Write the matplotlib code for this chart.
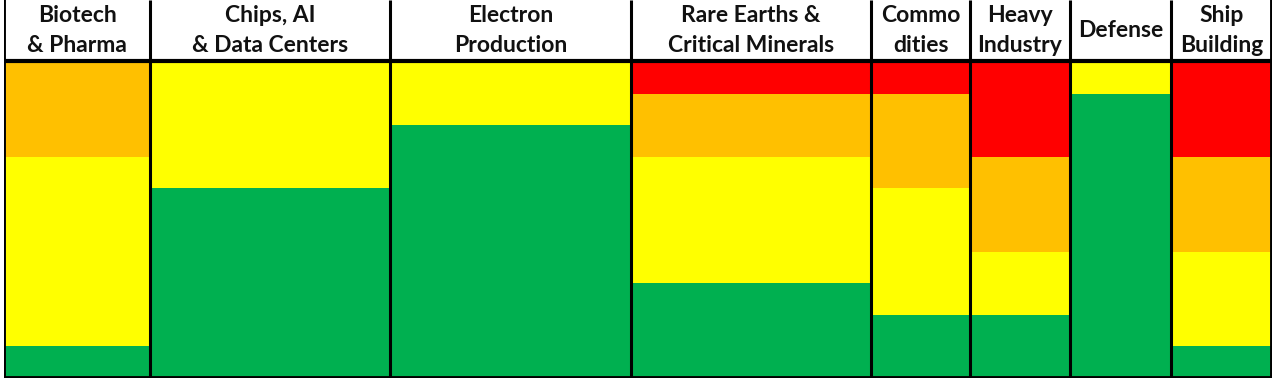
import matplotlib.pyplot as plt

# header labels for each column
sectors = ["Biotech\n& Pharma", "Chips, AI\n& Data Centers", "Electron\nProduction",
           "Rare Earths &\nCritical Minerals", "Commo\ndities", "Heavy\nIndustry",
           "Defense", "Ship\nBuilding"]

# stacked segments, bottom to top (out of 10)
green = [1, 6, 8, 3, 2, 2, 9, 1]
yellow = [6, 4, 2, 4, 4, 2, 1, 3]
orange = [3, 0, 0, 2, 3, 3, 0, 3]
red = [0, 0, 0, 1, 1, 3, 0, 3]

col_widths = [146, 240, 241, 240, 99, 100, 101, 101]
colors = {"green": "#00B050", "yellow": "#FFFF00", "orange": "#FFC000", "red": "#FF0000"}

W, H = 1280, 386
fig = plt.figure(figsize=(W / 100, H / 100), dpi=100)
ax = fig.add_axes([4 / W, 8 / H, 1268 / W, 378 / H])
unit = 316 / 10
top = 378 / unit

lefts = []
x = 0
for w in col_widths:
    lefts.append(x)
    x += w
total_w = x

bottom = [0] * len(sectors)
for name, vals in [("green", green), ("yellow", yellow), ("orange", orange), ("red", red)]:
    ax.bar(lefts, vals, width=col_widths, bottom=bottom, align="edge",
           color=colors[name], linewidth=0)
    bottom = [b + v for b, v in zip(bottom, vals)]

# grid lines
lw = 2.2
for xv in lefts[1:]:
    ax.plot([xv, xv], [0, top], color="black", lw=lw, solid_capstyle="butt")
ax.plot([0, 0], [0, top], color="black", lw=lw + 0.6, solid_capstyle="butt")
ax.plot([total_w, total_w], [0, top], color="black", lw=lw + 0.6, solid_capstyle="butt")
ax.plot([0, total_w], [10.03, 10.03], color="black", lw=3.0, solid_capstyle="butt")
ax.plot([0, total_w], [0, 0], color="black", lw=3.5, solid_capstyle="butt")

for l, w, s in zip(lefts, col_widths, sectors):
    ax.text(l + w / 2, 11.0, s, ha="center", va="center", fontsize=16.5,
            fontweight="bold", family=["Lato", "DejaVu Sans"], linespacing=1.5,
            color="#111111")

ax.set_xlim(0, total_w)
ax.set_ylim(0, top)
ax.axis("off")
fig.savefig("out.png", dpi=100)
